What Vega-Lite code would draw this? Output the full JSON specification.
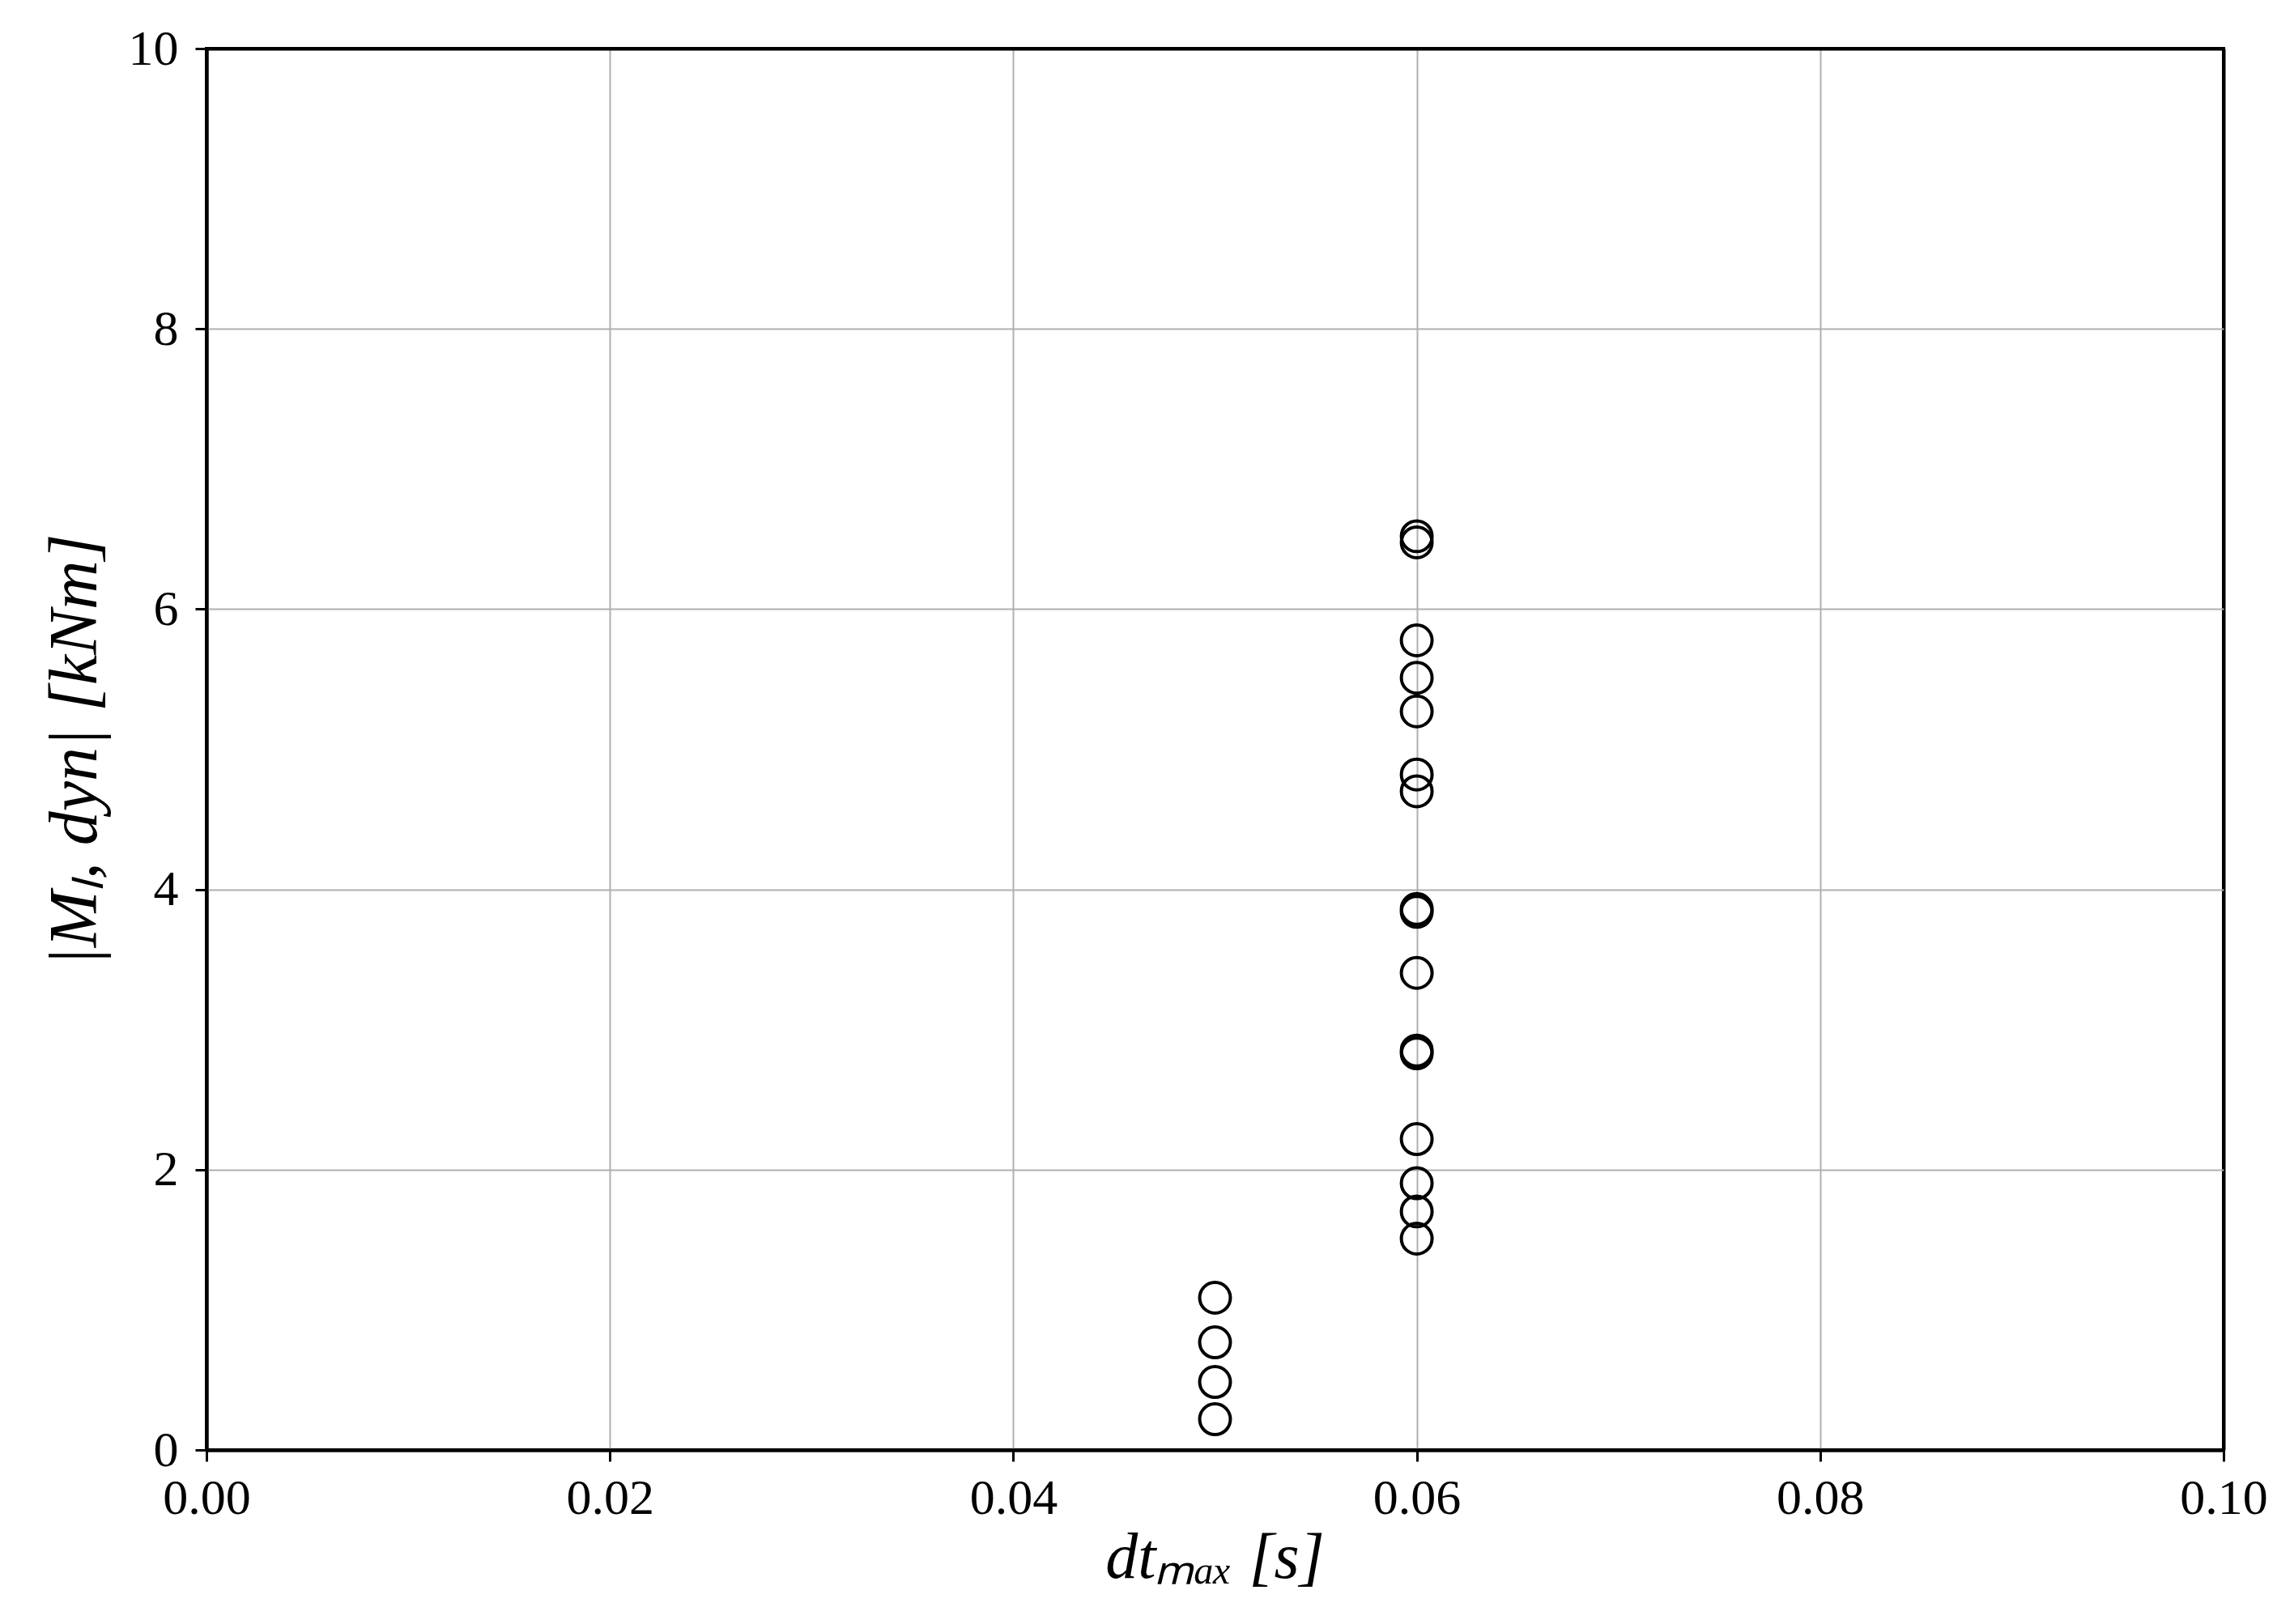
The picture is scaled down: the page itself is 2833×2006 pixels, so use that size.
{
  "$schema": "https://vega.github.io/schema/vega-lite/v6.json",
  "autosize": {"type": "none"},
  "width": 2491,
  "height": 1731,
  "padding": {"left": 255, "top": 60, "right": 87, "bottom": 215},
  "background": "white",
  "config": {
    "view": {"stroke": "black", "strokeWidth": 4},
    "font": "Liberation Serif"
  },
  "data": {
    "values": [
      {"dt": 0.05, "M": 1.086},
      {"dt": 0.05, "M": 0.768},
      {"dt": 0.05, "M": 0.485},
      {"dt": 0.05, "M": 0.219},
      {"dt": 0.06, "M": 6.52},
      {"dt": 0.06, "M": 6.476},
      {"dt": 0.06, "M": 5.777},
      {"dt": 0.06, "M": 5.51},
      {"dt": 0.06, "M": 5.27},
      {"dt": 0.06, "M": 4.82},
      {"dt": 0.06, "M": 4.70},
      {"dt": 0.06, "M": 3.86},
      {"dt": 0.06, "M": 3.84},
      {"dt": 0.06, "M": 3.404},
      {"dt": 0.06, "M": 2.85},
      {"dt": 0.06, "M": 2.83},
      {"dt": 0.06, "M": 2.218},
      {"dt": 0.06, "M": 1.903},
      {"dt": 0.06, "M": 1.702},
      {"dt": 0.06, "M": 1.508}
    ]
  },
  "mark": {"type": "point", "shape": "circle", "filled": false, "stroke": "black", "strokeWidth": 4, "size": 1440, "opacity": 1},
  "encoding": {
    "x": {
      "field": "dt", "type": "quantitative",
      "scale": {"domain": [0, 0.1], "nice": false, "zero": false},
      "axis": {
        "values": [0, 0.02, 0.04, 0.06, 0.08, 0.1],
        "format": ".2f",
        "title": "dtₘₐₓ [s]",
        "titleFont": "Liberation Serif", "titleFontStyle": "italic", "titleFontWeight": "normal",
        "titleFontSize": 80, "titleColor": "black",
        "titleX": 1245, "titleY": 157, "titleBaseline": "alphabetic", "titleAlign": "center", "titleAnchor": null,
        "labelFont": "Liberation Serif", "labelFontSize": 62, "labelColor": "black", "labelPadding": 15,
        "labelFlush": false, "labelOverlap": false,
        "domainColor": "black", "domainWidth": 4,
        "tickColor": "black", "tickWidth": 3, "tickSize": 14,
        "grid": true,
        "gridColor": {"condition": {"test": "datum.value >= 0.099 || datum.value <= 0.001", "value": "black"}, "value": "#b0b0b0"},
        "gridWidth": {"condition": {"test": "datum.value >= 0.099 || datum.value <= 0.001", "value": 4}, "value": 2}
      }
    },
    "y": {
      "field": "M", "type": "quantitative",
      "scale": {"domain": [0, 10], "nice": false, "zero": false},
      "axis": {
        "values": [0, 2, 4, 6, 8, 10],
        "title": "|Mₗ, dyn| [kNm]",
        "titleFont": "Liberation Serif", "titleFontStyle": "italic", "titleFontWeight": "normal",
        "titleFontSize": 84, "titleColor": "black",
        "titleX": -137, "titleY": 866, "titleAngle": -90, "titleBaseline": "alphabetic", "titleAlign": "center", "titleAnchor": null,
        "labelFont": "Liberation Serif", "labelFontSize": 62, "labelColor": "black", "labelPadding": 21,
        "labelFlush": false, "labelOverlap": false,
        "domainColor": "black", "domainWidth": 4,
        "tickColor": "black", "tickWidth": 3, "tickSize": 14,
        "grid": true,
        "gridColor": {"condition": {"test": "datum.value >= 9.99 || datum.value <= 0.01", "value": "black"}, "value": "#b0b0b0"},
        "gridWidth": {"condition": {"test": "datum.value >= 9.99 || datum.value <= 0.01", "value": 4}, "value": 2}
      }
    }
  }
}
